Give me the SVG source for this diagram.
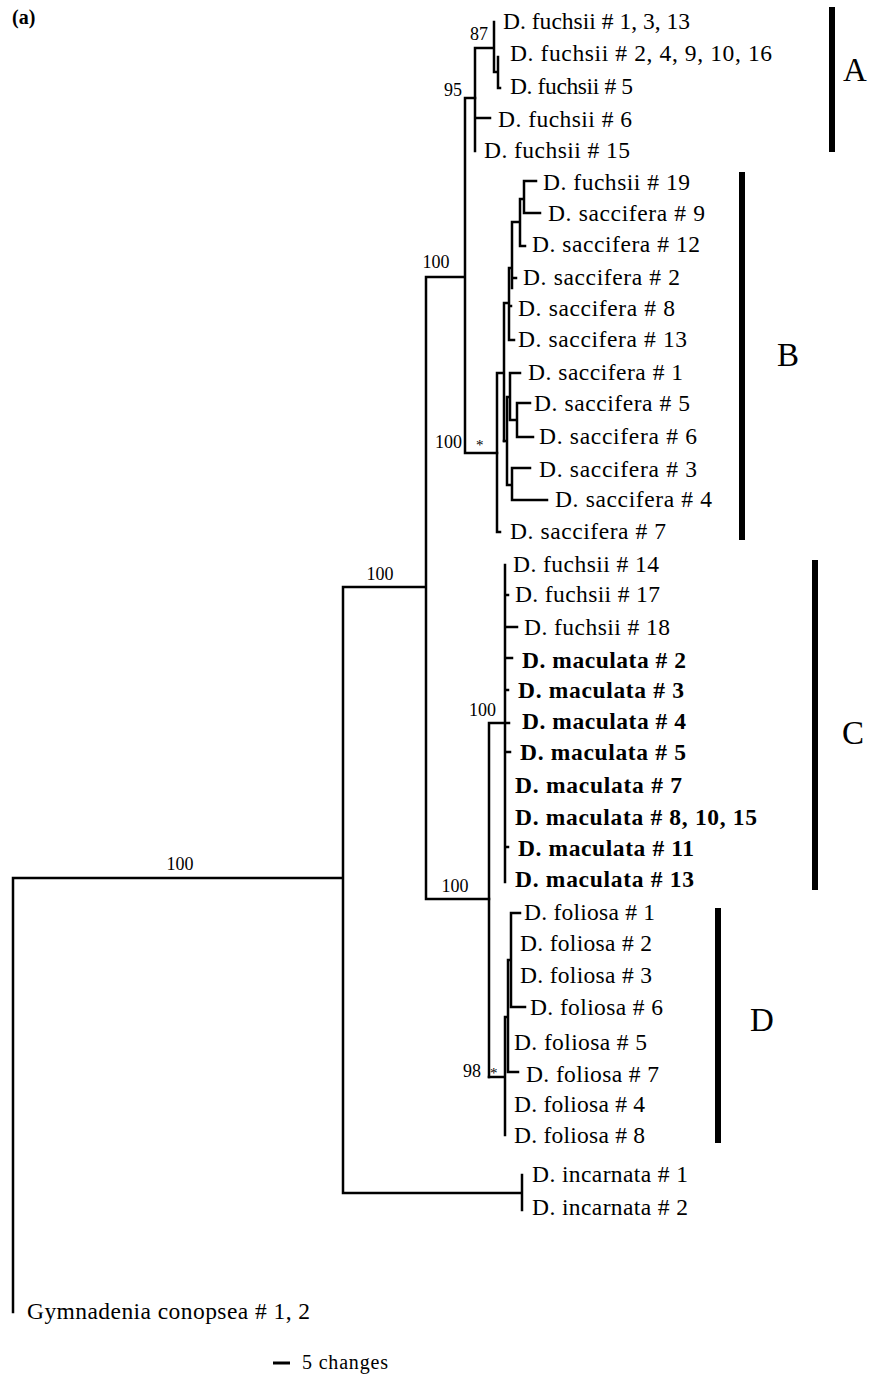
<svg xmlns="http://www.w3.org/2000/svg" width="896" height="1375" viewBox="0 0 896 1375">
<style>
.t{font-family:"Liberation Serif","Times New Roman",serif;font-size:23.5px;fill:#000}
.b{font-weight:bold}
.bs{font-family:"Liberation Serif","Times New Roman",serif;font-size:18px;fill:#000}
.ast{font-family:"Liberation Serif",serif;font-size:15px;fill:#000}
.cl{font-family:"Liberation Serif",serif;font-size:33px;fill:#000}
.e{fill:none;stroke:#000;stroke-width:2.5;stroke-linecap:square}
.bar{fill:#000}
</style>
<rect width="896" height="1375" fill="#fff"/>
<text x="12" y="24" class="t b" style="font-size:20px">(a)</text>
<g id="connectors" class="e">
<path d="M13,878 V1312 M13,878 H343 M343,587 V1193 M343,587 H426 M343,1193 H522 M522,1175 V1210 M426,277 V899 M426,277 H465 M426,899 H489 M465,98 V453 M465,98 H475 M465,453 H497"/>
<path d="M475,48 V151 M475,48 H494 M475,118 H490 M494,22 V72 M494,72 H498 M498,57 V88 H500"/>
<path d="M497,373 V532 H500 M497,373 H504 M504,303 V441 M504,303 H509 M509,268 V340 H514 M509,268 H512 M509,306 H511 M512,222 V288 M512,278 H516 M512,222 H520 M520,199 V246 H525 M520,199 H524 M524,181 H536 M524,181 V213 H540"/>
<path d="M504,441 H507 M507,397 V485 M507,397 H510 M510,373 V420 M510,373 H520 M510,420 H517 M517,403 V437 M517,403 H530 M517,437 H533 M507,485 H512 M512,468 V500 M512,468 H530 M512,500 H547"/>
<path d="M489,723 V1077 M489,723 H509 M505,565 V882 M505,595 H508 M505,627 H517 M505,658 H512 M505,690 H508 M505,752 H510 M505,847 H508"/>
<path d="M489,1077 H505 M505,1017 V1135 M505,1017 H508 M508,960 V1072 H518 M508,960 H511 M511,913 V1007 H525 M511,913 H520"/>
</g>
<g id="support">
<text class="bs" x="488" y="40" text-anchor="end">87</text>
<text class="bs" x="462" y="96" text-anchor="end">95</text>
<text class="bs" x="436" y="268" text-anchor="middle">100</text>
<text class="bs" x="462" y="448" text-anchor="end">100</text>
<text class="ast" x="476" y="450">*</text>
<text class="bs" x="380" y="580" text-anchor="middle">100</text>
<text class="bs" x="180" y="870" text-anchor="middle">100</text>
<text class="bs" x="496" y="716" text-anchor="end">100</text>
<text class="bs" x="455" y="892" text-anchor="middle">100</text>
<text class="bs" x="481" y="1077" text-anchor="end">98</text>
<text class="ast" x="490" y="1078">*</text>
</g>
<g id="cladeA"><text class="t" x="503" y="29" textLength="187" lengthAdjust="spacing">D. fuchsii # 1, 3, 13</text>
<text class="t" x="510" y="61" textLength="262" lengthAdjust="spacing">D. fuchsii # 2, 4, 9, 10, 16</text>
<text class="t" x="510" y="94" textLength="123" lengthAdjust="spacing">D. fuchsii # 5</text>
<text class="t" x="498" y="127" textLength="134" lengthAdjust="spacing">D. fuchsii # 6</text>
<text class="t" x="484" y="158" textLength="146" lengthAdjust="spacing">D. fuchsii # 15</text></g>
<g id="cladeB"><text class="t" x="543" y="190" textLength="147" lengthAdjust="spacing">D. fuchsii # 19</text>
<text class="t" x="548" y="221" textLength="157" lengthAdjust="spacing">D. saccifera # 9</text>
<text class="t" x="532" y="252" textLength="168" lengthAdjust="spacing">D. saccifera # 12</text>
<text class="t" x="523" y="285" textLength="157" lengthAdjust="spacing">D. saccifera # 2</text>
<text class="t" x="518" y="316" textLength="157" lengthAdjust="spacing">D. saccifera # 8</text>
<text class="t" x="518" y="347" textLength="169" lengthAdjust="spacing">D. saccifera # 13</text>
<text class="t" x="528" y="380" textLength="155" lengthAdjust="spacing">D. saccifera # 1</text>
<text class="t" x="534" y="411" textLength="156" lengthAdjust="spacing">D. saccifera # 5</text>
<text class="t" x="539" y="444" textLength="158" lengthAdjust="spacing">D. saccifera # 6</text>
<text class="t" x="539" y="477" textLength="158" lengthAdjust="spacing">D. saccifera # 3</text>
<text class="t" x="555" y="507" textLength="157" lengthAdjust="spacing">D. saccifera # 4</text>
<text class="t" x="510" y="539" textLength="156" lengthAdjust="spacing">D. saccifera # 7</text></g>
<g id="cladeC"><text class="t" x="513" y="572" textLength="146" lengthAdjust="spacing">D. fuchsii # 14</text>
<text class="t" x="515" y="602" textLength="145" lengthAdjust="spacing">D. fuchsii # 17</text>
<text class="t" x="524" y="635" textLength="146" lengthAdjust="spacing">D. fuchsii # 18</text>
<text class="t b" x="522" y="668" textLength="164" lengthAdjust="spacing">D. maculata # 2</text>
<text class="t b" x="518" y="698" textLength="166" lengthAdjust="spacing">D. maculata # 3</text>
<text class="t b" x="522" y="729" textLength="164" lengthAdjust="spacing">D. maculata # 4</text>
<text class="t b" x="520" y="760" textLength="166" lengthAdjust="spacing">D. maculata # 5</text>
<text class="t b" x="515" y="793" textLength="167" lengthAdjust="spacing">D. maculata # 7</text>
<text class="t b" x="515" y="825" textLength="242" lengthAdjust="spacing">D. maculata # 8, 10, 15</text>
<text class="t b" x="518" y="856" textLength="176" lengthAdjust="spacing">D. maculata # 11</text>
<text class="t b" x="515" y="887" textLength="179" lengthAdjust="spacing">D. maculata # 13</text></g>
<g id="cladeD"><text class="t" x="524" y="920" textLength="131" lengthAdjust="spacing">D. foliosa # 1</text>
<text class="t" x="520" y="951" textLength="132" lengthAdjust="spacing">D. foliosa # 2</text>
<text class="t" x="520" y="983" textLength="132" lengthAdjust="spacing">D. foliosa # 3</text>
<text class="t" x="530" y="1015" textLength="133" lengthAdjust="spacing">D. foliosa # 6</text>
<text class="t" x="514" y="1050" textLength="133" lengthAdjust="spacing">D. foliosa # 5</text>
<text class="t" x="526" y="1082" textLength="133" lengthAdjust="spacing">D. foliosa # 7</text>
<text class="t" x="514" y="1112" textLength="131" lengthAdjust="spacing">D. foliosa # 4</text>
<text class="t" x="514" y="1143" textLength="131" lengthAdjust="spacing">D. foliosa # 8</text></g>
<g id="outgroups"><text class="t" x="532" y="1182" textLength="156" lengthAdjust="spacing">D. incarnata # 1</text>
<text class="t" x="532" y="1215" textLength="156" lengthAdjust="spacing">D. incarnata # 2</text>
<text class="t" x="27" y="1319" textLength="283" lengthAdjust="spacing">Gymnadenia conopsea # 1, 2</text></g>
<g id="bars">
<rect class="bar" x="829" y="7" width="6" height="145"/><text class="cl" x="855" y="81" text-anchor="middle">A</text>
<rect class="bar" x="739" y="172" width="6" height="368"/><text class="cl" x="788" y="366" text-anchor="middle">B</text>
<rect class="bar" x="812" y="560" width="6" height="330"/><text class="cl" x="853" y="744" text-anchor="middle">C</text>
<rect class="bar" x="715" y="908" width="6" height="235"/><text class="cl" x="762" y="1031" text-anchor="middle">D</text>
</g>
<g id="scale"><path d="M273,1363 H290" stroke="#000" stroke-width="3"/>
<text class="t" style="font-size:20px" x="302" y="1369" textLength="86" lengthAdjust="spacing">5 changes</text></g>
</svg>
